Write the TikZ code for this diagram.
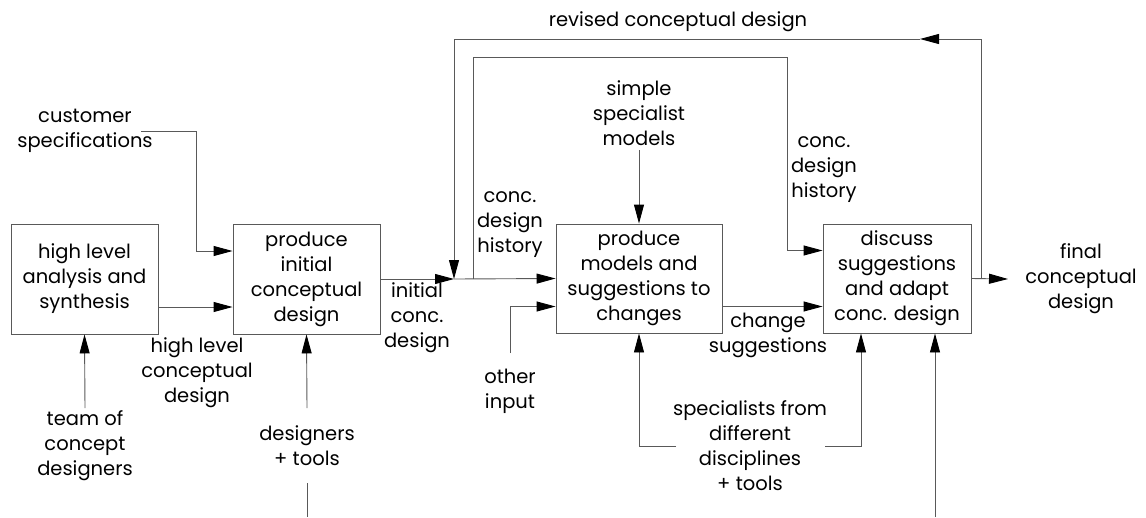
\documentclass[tikz,border=0pt]{standalone}
\usepackage{fontspec}
\setmainfont{Poppins}
\usetikzlibrary{arrows.meta}
\begin{document}
\begin{tikzpicture}[x=1pt,y=-1pt,
  line/.style={draw=black!65,line width=0.9pt},
  arr/.style={line,-{Triangle[length=19pt,width=10pt,color=black]}},
  procbox/.style={draw=black!65,line width=0.9pt,align=center,inner sep=0pt,
    font=\fontsize{19.5}{25}\selectfont},
  lbl/.style={align=center,inner sep=0pt,font=\fontsize{19.5}{25}\selectfont}]
\useasboundingbox (0,0) rectangle (1146,517);

% process boxes
\node[procbox,minimum width=147pt,minimum height=110pt] (b1) at (84.5,279) {high level\\analysis and\\synthesis};
\node[procbox,minimum width=147pt,minimum height=110pt] (b2) at (306.5,279) {produce\\initial\\conceptual\\design};
\node[procbox,minimum width=166pt,minimum height=109pt] (b3) at (639,278.5) {produce\\models and\\suggestions to\\changes};
\node[procbox,minimum width=148pt,minimum height=109pt] (b4) at (897,278.5) {discuss\\suggestions\\and adapt\\conc. design};

% labels
\node[lbl] (cs) at (85,131) {customer\\specifications};
\node[lbl] (team) at (85,446) {team of\\concept\\designers};
\node[lbl] (hlcd) at (197,373) {high level\\conceptual\\design};
\node[lbl] (dt) at (307,446) {designers\\+ tools};
\node[lbl] (icd) at (417,318) {initial\\conc.\\design};
\node[lbl] (hist1) at (510,225) {conc.\\design\\history};
\node[lbl] (ssm) at (639,113) {simple\\specialist\\models};
\node[lbl] (hist2) at (824,170) {conc.\\design\\history};
\node[lbl] (oi) at (510,391) {other\\input};
\node[lbl] (cs2) at (768,335) {change\\suggestions};
\node[lbl] (spec) at (750,446) {specialists from\\different\\disciplines\\+ tools};
\node[lbl] (rev) at (678,22) {revised conceptual design};
\node[lbl] (fin) at (1081,279) {final\\conceptual\\design};

% connector points
\coordinate (c1) at (141,131);
\coordinate (k1) at (196,131);
\coordinate (t1) at (85,408);
\coordinate (d1) at (307,408);
\coordinate (d2) at (307,483);
\coordinate (d3) at (307,517);
\coordinate (J) at (454,279);
\coordinate (H0) at (473,279);
\coordinate (H1) at (787,57);
\coordinate (R1) at (981,279);
\coordinate (M) at (920,39);
\coordinate (O) at (1008,279);
\coordinate (s1) at (639,150);
\coordinate (o1) at (510,353);
\coordinate (L1) at (676,446);
\coordinate (L2) at (825,446);
\coordinate (B1) at (935,517);

% connectors
\draw[arr] (c1) -- (k1) |- ([yshift=28pt]b2.west);
\draw[arr] ([yshift=-28pt]b1.east) -- ([yshift=-28pt]b2.west);
\draw[arr] (t1) -- (b1.south);
\draw[arr] (d1) -- (b2.south);
\draw[line] (d2) -- (d3);
\draw[arr] (b2.east) -- (J);
\draw[arr] (J) -- (b3.west);
\draw[arr] (H0) |- (H1) |- ([yshift=28pt]b4.west);
\draw[arr] (s1) -- (b3.north);
\draw[arr] (o1) |- ([yshift=-28pt]b3.west);
\draw[arr] ([yshift=-28pt]b3.east) -- ([yshift=-28pt]b4.west);
\draw[arr] (L1) -| (b3.south);
\draw[arr] (L2) -| ([xshift=-36pt]b4.south);
\draw[arr] (B1) -- ([xshift=38pt]b4.south);
\draw[arr] (b4.east) -- (O);
\draw[arr] (R1) |- (M);
\draw[arr] (M) -| (J);
\end{tikzpicture}
\end{document}
